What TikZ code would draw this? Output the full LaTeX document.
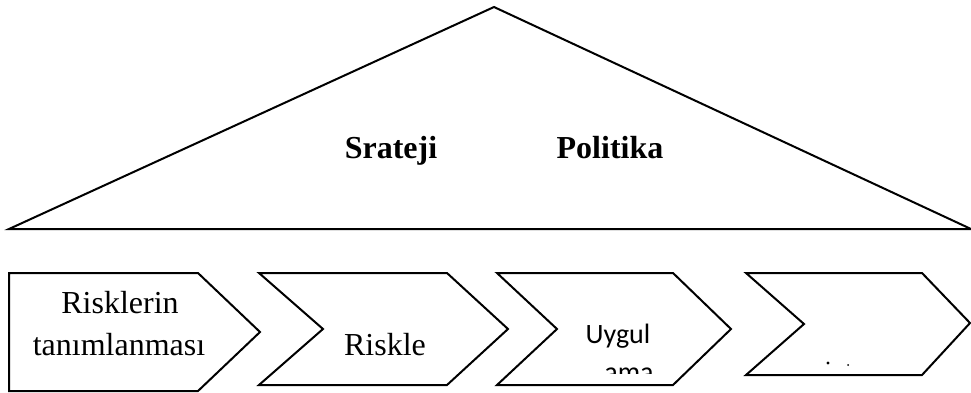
\documentclass[tikz,border=0pt]{standalone}
\usepackage{fontspec}
\setmainfont{Liberation Serif}
\newfontfamily\calfont{Carlito}
\begin{document}
\begin{tikzpicture}[x=1pt,y=-1pt,
  outline/.style={draw=black,line width=2pt,line join=miter},
  serlabel/.style={anchor=base,inner sep=0pt,font=\fontsize{32}{41}\selectfont},
  boldlabel/.style={anchor=base,inner sep=0pt,font=\fontsize{32}{41}\selectfont\bfseries},
  callabel/.style={anchor=base,inner sep=0pt,font=\calfont\fontsize{28}{34}\selectfont}]
\useasboundingbox (0,0) rectangle (971,392);
% roof triangle
\coordinate (tl) at (9,229);
\coordinate (tt) at (494,7);
\coordinate (tr) at (971,229);
\draw[outline] (tl) -- (tt) -- (tr) -- cycle;
\node[boldlabel] (srat) at (391,158) {Srateji};
\node[boldlabel] (poli) at (610,158) {Politika};
% box 1
\draw[outline] (9,273) -- (198,273) -- (260,332) -- (198,391) -- (9,391) -- cycle;
\node[serlabel] (b1a) at (120,313) {Risklerin};
\node[serlabel] (b1b) at (119,355) {tanımlanması};
% box 2
\draw[outline] (259,273) -- (447,273) -- (508,329) -- (447,385) -- (259,385) -- (323,329) -- cycle;
\node[serlabel] (b2) at (385,355) {Riskle};
% box 3
\draw[outline] (497,273) -- (673,273) -- (731,329) -- (673,385) -- (497,385) -- (557,329) -- cycle;
\node[callabel] (b3a) at (618,343) {Uygul};
\begin{scope}
  \clip (560,355) rectangle (700,373);
  \node[callabel] (b3b) at (629,381) {ama};
\end{scope}
% box 4
\draw[outline] (746,273) -- (922,273) -- (970,323) -- (922,375) -- (746,375) -- (804,324) -- cycle;
\fill (828,363) circle (1.6);
\fill (848,365) circle (1.0);
\end{tikzpicture}
\end{document}
